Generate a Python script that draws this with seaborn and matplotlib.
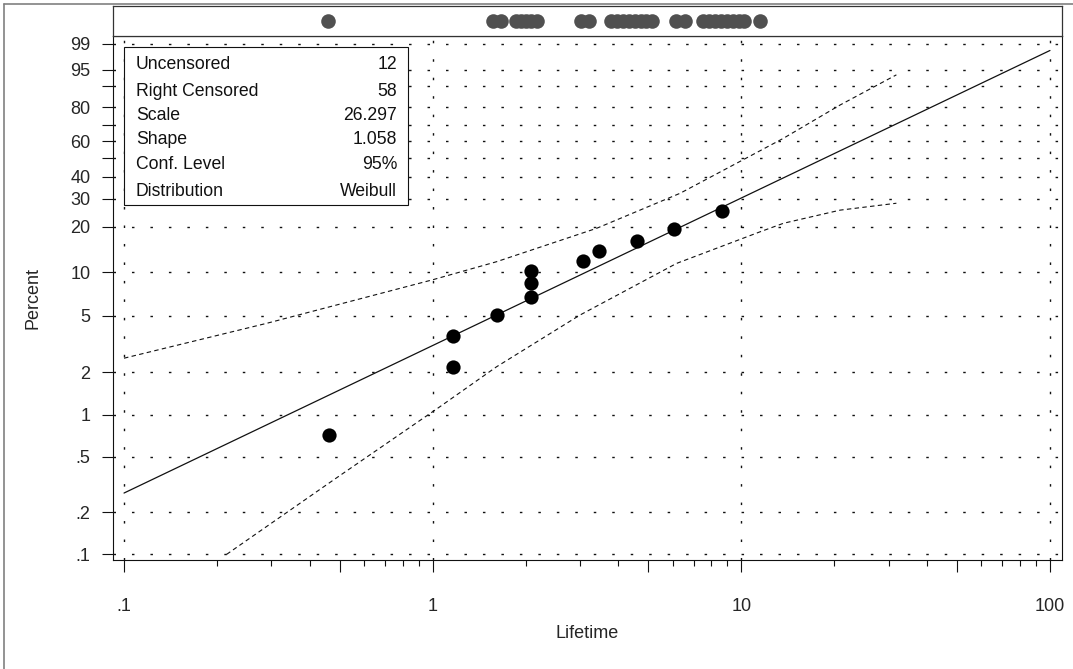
import numpy as np
import pandas as pd
import matplotlib
matplotlib.use("Agg")
import matplotlib.pyplot as plt
import seaborn as sns
from matplotlib.lines import Line2D
from matplotlib.patches import Rectangle
from matplotlib.ticker import FixedLocator, FixedFormatter, NullFormatter

# ---------------- data ----------------
unc_lifetime = [0.46, 1.16, 1.16, 1.61, 2.09, 2.09, 2.09, 3.08, 3.45, 4.59, 6.07, 8.65]
unc_percent = [0.71, 2.18, 3.63, 5.08, 6.72, 8.40, 10.16, 12.0, 14.0, 16.3, 19.3, 25.2]

strip_lifetime = [0.459, 1.565, 1.661, 1.862, 1.932, 2.005, 2.082, 2.177,
                  3.02, 3.21, 3.78, 3.95, 4.14, 4.32, 4.52, 4.73, 4.91, 5.13,
                  6.14, 6.57, 7.51, 7.86, 8.21, 8.59, 8.98, 9.39, 9.82, 10.2, 11.49]

fit_lifetime = [0.1, 100]
fit_percent = [0.275, 98.36]

upper_lifetime = [0.1, 0.29, 1.0, 1.61, 3.40, 6.33, 10.1, 13.7, 20.9, 31.8]
upper_percent = [2.52, 4.44, 8.9, 11.8, 19.6, 32.2, 49.0, 61.9, 81.2, 93.6]

lower_lifetime = [0.215, 0.477, 1.056, 1.61, 3.00, 6.17, 11.5, 13.7, 20.9, 31.8]
lower_percent = [0.10, 0.341, 1.14, 2.19, 5.07, 11.5, 18.6, 21.1, 25.5, 28.1]

y_tick_values = [0.1, 0.2, 0.5, 1, 2, 5, 10, 20, 30, 40, 50, 60, 70, 80, 90, 95, 99]
y_tick_labels = [".1", ".2", ".5", "1", "2", "5", "10", "20", "30", "40", "", "60", "", "80", "", "95", "99"]
x_major_values = [0.1, 0.5, 1, 5, 10, 50, 100]
x_major_labels = [".1", "", "1", "", "10", "", "100"]
x_minor_values = [0.2, 0.3, 0.4, 0.6, 0.7, 0.8, 0.9, 2, 3, 4, 6, 7, 8, 9,
                  20, 30, 40, 60, 70, 80, 90]
x_grid_values = [0.1, 1, 10, 100]

legend_names = ["Uncensored", "Right Censored", "Scale", "Shape", "Conf. Level", "Distribution"]
legend_values = ["12", "58", "26.297", "1.058", "95%", "Weibull"]

# ---------------- style ----------------
sns.set_style("ticks")
plt.rcParams['font.family'] = ['Liberation Sans', 'DejaVu Sans']
plt.rcParams['axes.linewidth'] = 0.8

fig = plt.figure(figsize=(10.73, 6.69), dpi=100)
W, H = 1073, 669
L, R, T, B, ST = 112.7, 1062, 36, 560, 6
ax = fig.add_axes([L / W, 1 - B / H, (R - L) / W, (B - T) / H])
axs = fig.add_axes([L / W, 1 - T / H, (R - L) / W, (T - ST) / H], sharex=ax)

ink = "#111111"

# main marks
sns.lineplot(x=fit_lifetime, y=fit_percent, ax=ax, color=ink, lw=0.9,
             estimator=None, sort=False, zorder=3)
sns.lineplot(x=upper_lifetime, y=upper_percent, ax=ax, color=ink, lw=0.8,
             estimator=None, sort=False, linestyle=(0, (4, 3)), zorder=3)
sns.lineplot(x=lower_lifetime, y=lower_percent, ax=ax, color=ink, lw=0.8,
             estimator=None, sort=False, linestyle=(0, (4, 3)), zorder=3)
sns.scatterplot(x=unc_lifetime, y=unc_percent, ax=ax, color="black", s=105,
                linewidth=0, zorder=4)

# strip of all observations
sns.scatterplot(x=strip_lifetime, y=np.zeros(len(strip_lifetime)), ax=axs,
                color="#505050", s=110, linewidth=0, zorder=3)

# scales
def fwd(p):
    p = np.clip(np.asarray(p, dtype=float), 1e-9, 100 - 1e-9)
    return np.log(-np.log(1 - p / 100.0))

def inv(w):
    return 100.0 * (1 - np.exp(-np.exp(np.asarray(w, dtype=float))))

ax.set_xscale("log")
ax.set_yscale("function", functions=(fwd, inv))
ax.set_xlim(0.0919, 109.4)
ax.set_ylim(0.0911, 99.46)

# grid (dotted)
dot = (0, (1.8, 11.5))
for v in y_tick_values:
    ax.axhline(v, color=ink, lw=1.0, linestyle=dot, zorder=1)
for v in x_grid_values:
    ax.axvline(v, color=ink, lw=1.0, linestyle=dot, zorder=1)

# ticks
ax.yaxis.set_major_locator(FixedLocator(y_tick_values))
ax.yaxis.set_major_formatter(FixedFormatter(y_tick_labels))
ax.yaxis.set_minor_locator(FixedLocator([]))
ax.xaxis.set_major_locator(FixedLocator(x_major_values))
ax.xaxis.set_major_formatter(FixedFormatter(x_major_labels))
ax.xaxis.set_minor_locator(FixedLocator(x_minor_values))
ax.xaxis.set_minor_formatter(NullFormatter())
ax.tick_params(axis="y", which="major", length=8, width=0.8, color=ink,
               labelsize=13, pad=8, direction="out", left=True)
ax.tick_params(axis="x", which="major", length=8.5, width=0.8, color=ink,
               labelsize=13, pad=19, direction="out", bottom=True)
ax.tick_params(axis="x", which="minor", length=4, width=0.8, color=ink,
               direction="out", bottom=True)
for s in ax.spines.values():
    s.set_visible(True)
    s.set_color(ink)
    s.set_linewidth(0.8)

ax.set_xlabel("Lifetime", fontsize=13)
ax.set_ylabel("Percent", fontsize=13)
ax.xaxis.set_label_coords(0.5, -0.125)
ax.yaxis.set_label_coords(-0.075, 0.5)

# strip axes
axs.set_ylim(-1, 1)
axs.set_yticks([])
axs.tick_params(axis="x", which="both", bottom=False, labelbottom=False)
axs.set_xlabel("")
axs.set_ylabel("")
for s in axs.spines.values():
    s.set_visible(True)
    s.set_color("#333333")
    s.set_linewidth(0.9)

# legend box
bx0, bx1, by0, by1 = 0.0119, 0.311, 0.6775, 0.9796
ax.add_patch(Rectangle((bx0, by0), bx1 - bx0, by1 - by0, transform=ax.transAxes,
                       facecolor="white", edgecolor=ink, lw=0.8, zorder=5))
row_y = [0.946, 0.895, 0.849, 0.803, 0.754, 0.704]
for name, val, yy in zip(legend_names, legend_values, row_y):
    ax.text(0.0245, yy, name, transform=ax.transAxes, fontsize=12.7,
            ha="left", va="center", zorder=6, color=ink)
    ax.text(0.2995, yy, val, transform=ax.transAxes, fontsize=12.7,
            ha="right", va="center", zorder=6, color=ink)

# outer frame (left and top edges visible in the reference)
fig.add_artist(Line2D([4 / W, 4 / W], [0, 1 - 4 / H], transform=fig.transFigure,
                      color="#808080", lw=1.2))
fig.add_artist(Line2D([4 / W, 1], [1 - 4 / H, 1 - 4 / H], transform=fig.transFigure,
                      color="#808080", lw=1.2))

fig.savefig("out.png", dpi=100, facecolor="white")
